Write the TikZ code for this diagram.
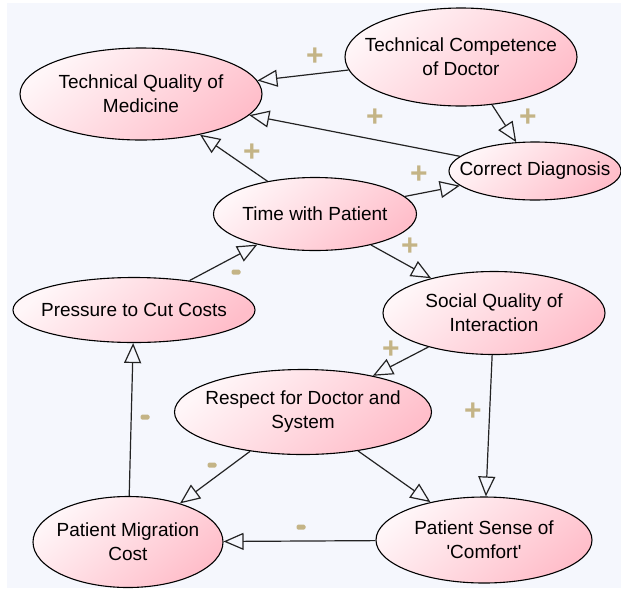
\documentclass[tikz,border=0pt]{standalone}
\usepackage{fontspec}
\setmainfont{Liberation Sans}
\usetikzlibrary{shapes.geometric,arrows.meta}

\definecolor{canvas}{RGB}{245,247,253}
\definecolor{nodepink}{RGB}{255,190,202}
\definecolor{nodelight}{RGB}{255,246,248}
\definecolor{signtan}{RGB}{196,180,134}
\definecolor{linkgray}{RGB}{35,35,35}

\tikzset{
	factor/.style={ellipse, draw=black, line width=1.1pt, top color=nodelight, bottom color=nodepink, shading angle=40, align=center, inner xsep=-30pt, inner ysep=-6pt, font=\fontsize{19}{24}\selectfont},
	link/.style={draw=linkgray, line width=1.2pt, -{Triangle[open, length=20pt, width=17pt]}},
	sign/.style={text=signtan, font=\fontsize{30}{30}\selectfont\bfseries, inner sep=0pt},
	minus/.style={fill=signtan, rounded corners=1.5pt, minimum width=9pt, minimum height=5pt, inner sep=0pt}
}

\begin{document}
\begin{tikzpicture}[x=1pt, y=-1pt]
		\useasboundingbox (0,0) rectangle (621,590);
		\fill[white] (0,0) rectangle (621,590);
		\fill[canvas] (7,3) rectangle (621,588);
		
		% factors
		\node[factor, minimum width=242pt, minimum height=92pt] (tqm) at (141,94) {Technical Quality of\\Medicine};
		\node[factor, minimum width=232pt, minimum height=98pt] (tcd) at (461,57) {Technical Competence\\of Doctor};
		\node[factor, minimum width=172pt, minimum height=58pt] (diag) at (535,171) {Correct Diagnosis};
		\node[factor, minimum width=203pt, minimum height=73pt] (twp) at (315,214) {Time with Patient};
		\node[factor, minimum width=242pt, minimum height=65pt] (pcc) at (134,310) {Pressure to Cut Costs};
		\node[factor, minimum width=222pt, minimum height=83pt] (sqi) at (494,313) {Social Quality of\\Interaction};
		\node[factor, minimum width=257pt, minimum height=85pt] (rds) at (303,412) {Respect for Doctor and\\System};
		\node[factor, minimum width=190pt, minimum height=91pt] (pmc) at (128,542) {Patient Migration\\Cost};
		\node[factor, minimum width=216pt, minimum height=86pt] (psc) at (484,540) {Patient Sense of\\\textquotesingle Comfort\textquotesingle};
		
		% links
		\draw[link] (tcd) -- (tqm);
		\draw[link] (tcd) -- (diag);
		\draw[link] (diag) -- (tqm);
		\draw[link] (twp) -- (tqm);
		\draw[link] (twp) -- (diag);
		\draw[link] (twp) -- (sqi);
		\draw[link] (pcc) -- (twp);
		\draw[link] (sqi) -- (rds);
		\draw[link] (sqi) -- (psc);
		\draw[link] (rds) -- (pmc);
		\draw[link] (rds) -- (psc);
		\draw[link] (pmc) -- (pcc);
		\draw[link] (psc) -- (pmc);
		
		% polarities
		\node[sign] (p1) at (315,57) {+};
		\node[sign] (p2) at (528,118) {+};
		\node[sign] (p3) at (375,118) {+};
		\node[sign] (p4) at (252,153) {+};
		\node[sign] (p5) at (419,175) {+};
		\node[sign] (p6) at (410,247) {+};
		\node[minus] (m1) at (236,272) {};
		\node[sign] (p7) at (391,350) {+};
		\node[sign] (p8) at (473,412) {+};
		\node[minus] (m2) at (145,417) {};
		\node[minus] (m3) at (212,465) {};
		\node[minus] (m4) at (301,527) {};
		
\end{tikzpicture}
\end{document}
